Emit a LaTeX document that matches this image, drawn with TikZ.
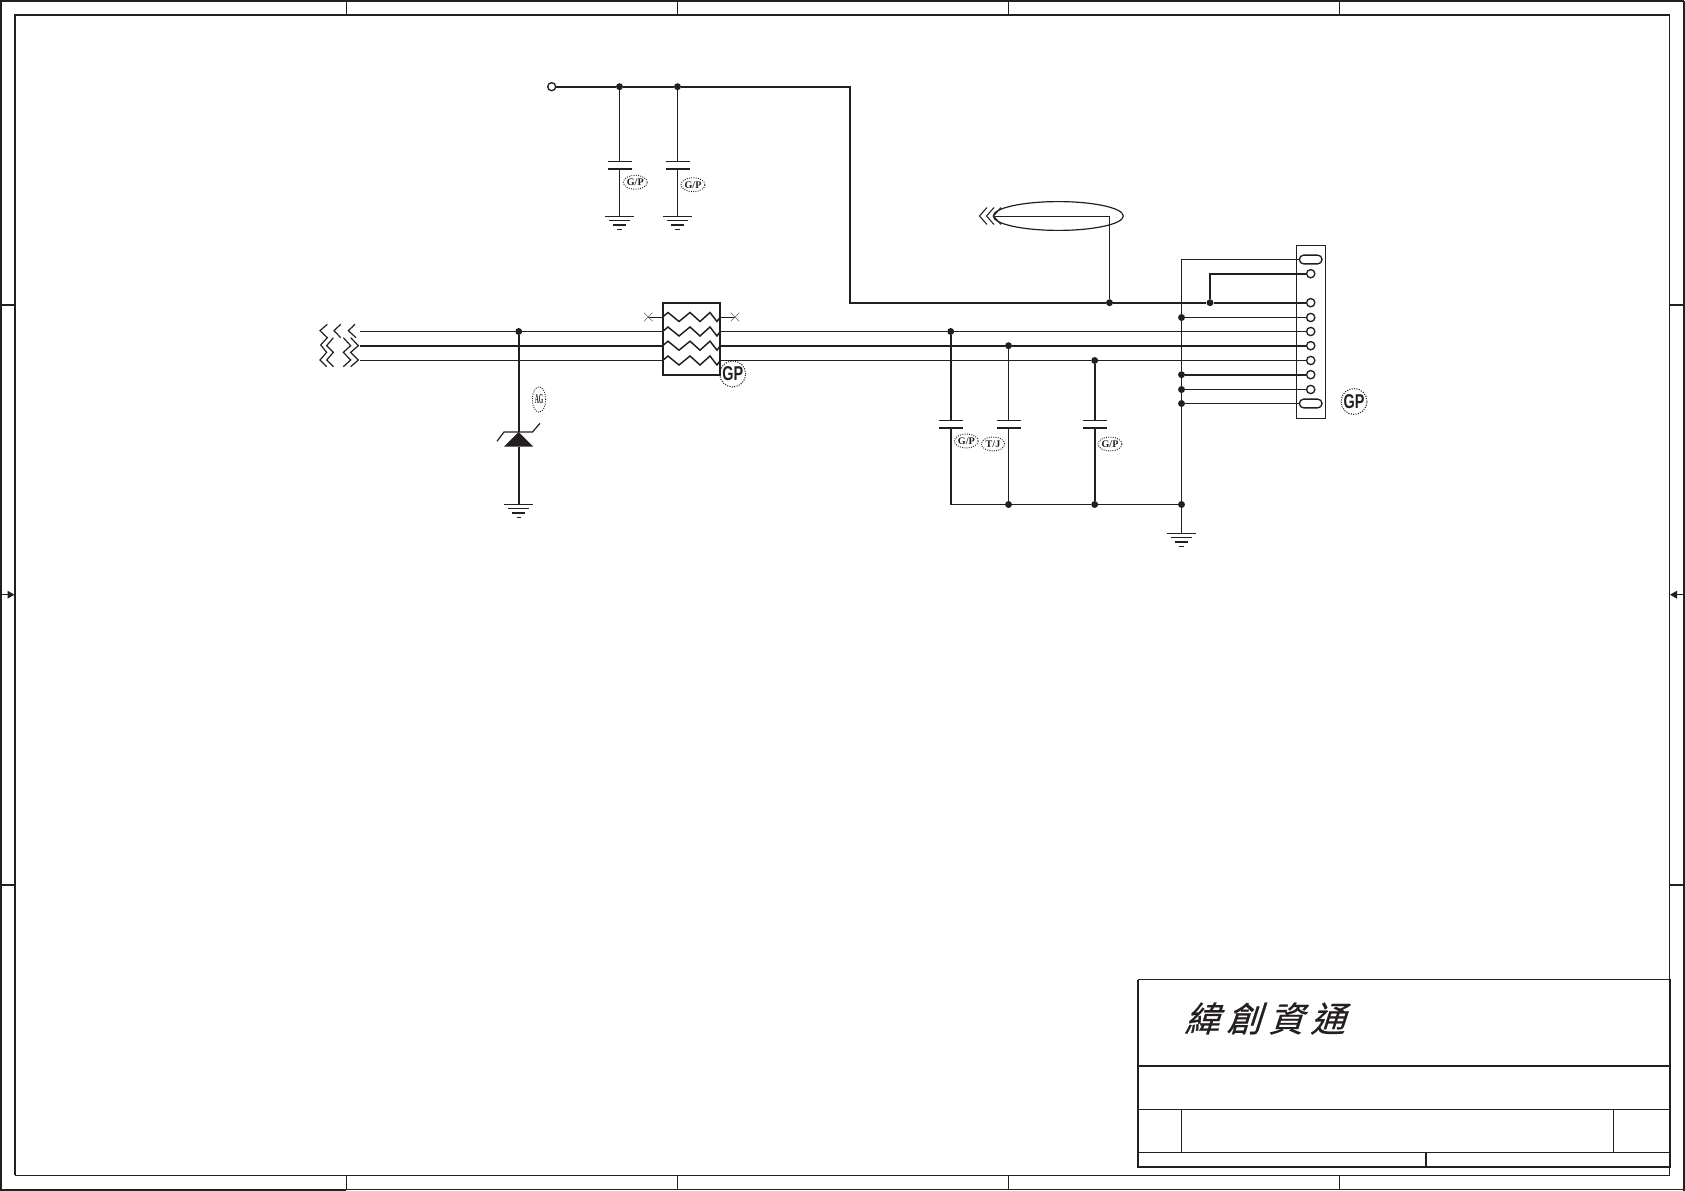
\documentclass[tikz,border=0pt]{standalone}
\usepackage{fontspec}
\setmainfont{Liberation Serif}
\newfontfamily\gpsans{Liberation Sans}
\newfontfamily\cjk[FakeBold=0.7]{Noto Sans CJK TC}
\definecolor{ink}{HTML}{231F20}
\usetikzlibrary{shapes.geometric,shapes.misc}
\tikzset{
  thin wire/.style={draw=ink,line width=0.8pt},
  mid wire/.style={draw=ink,line width=1.4pt},
  thick wire/.style={draw=ink,line width=1.6pt},
  frame thin/.style={draw=ink,line width=0.8pt},
  frame thick/.style={draw=ink,line width=1.4pt},
  junction/.style={circle,fill=ink,inner sep=0pt,minimum size=5.2pt},
  pinhole/.style={circle,draw=ink,fill=white,line width=1pt,inner sep=0pt,minimum size=6.2pt},
  slot/.style={rounded rectangle,draw=ink,fill=white,line width=1pt,inner sep=0pt,minimum width=17pt,minimum height=6.6pt},
  tagsmall/.style={ellipse,draw=ink,densely dotted,line width=0.7pt,inner sep=0pt,minimum width=17.5pt,minimum height=10.5pt,font=\bfseries\fontsize{7.6}{8}\selectfont,text=ink},
  taglarge/.style={circle,draw=ink,densely dotted,line width=0.8pt,inner sep=0pt,minimum size=19.5pt,text=ink},
  plate thin/.style={draw=ink,line width=0.8pt},
  plate thick/.style={draw=ink,line width=1.5pt},
}
% capacitor: name, x, first plate y, second plate y, style of the second plate
\newcommand{\capsym}[5]{%
  \coordinate (#1a) at (#2,#3);\coordinate (#1b) at (#2,#4);
  \draw[plate thin] (#2-12,#3) -- (#2+12,#3);
  \draw[#5] (#2-12,#4) -- (#2+12,#4);}
% ground: name, x, y
\newcommand{\gndsym}[3]{%
  \coordinate (#1) at (#2,#3);
  \draw[plate thin] (#2-14.7,#3) -- (#2+14.7,#3);
  \draw[plate thin] (#2-10.5,#3+4.3) -- (#2+10.5,#3+4.3);
  \draw[plate thick] (#2-6.5,#3+8.6) -- (#2+6.5,#3+8.6);
  \draw[plate thin] (#2-2.2,#3+13) -- (#2+2.2,#3+13);}
\newcommand{\gpbig}{\gpsans\bfseries\fontsize{15}{15}\selectfont\scalebox{0.72}[1]{GP}}
\begin{document}
\begin{tikzpicture}[x=0.75pt,y=-0.75pt,line join=miter]
\useasboundingbox (0,0) rectangle (1685,1191);
\fill[white] (0,0) rectangle (1685,1191);

% ---- sheet frame
\draw[frame thin] (1,1190) -- (1,1) -- (1684,1);
\draw[frame thick] (1684,1) -- (1684,1191);
\draw[frame thick] (0,1190) -- (346,1190);
\draw[frame thin] (346,1189.5) -- (1684,1189.5);
\draw[frame thick] (15,1175) -- (15,15) -- (1670,15);
\draw[frame thin] (1669.5,15) -- (1669.5,1175);
\draw[frame thin,line width=1pt] (15,1175.5) -- (1670,1175.5);
\foreach \tx in {346.5,677.5,1008.5,1339.5} {
  \draw[frame thin] (\tx,1) -- (\tx,15);
  \draw[frame thin] (\tx,1175) -- (\tx,1189.5);
}
\foreach \ty in {305,885} {
  \draw[frame thin] (1,\ty) -- (15,\ty);
  \draw[frame thin] (1670,\ty) -- (1684,\ty);
}
\draw[frame thin,line width=1.1pt] (1,594.7) -- (10,594.7);
\fill[ink] (14.5,594.7) -- (7.5,590.7) -- (7.5,598.7) -- cycle;
\draw[frame thin,line width=1.1pt] (1684,594.7) -- (1675,594.7);
\fill[ink] (1670,594.7) -- (1677,590.7) -- (1677,598.7) -- cycle;

% ---- title block
\draw[frame thin] (1138,979.5) -- (1670.5,979.5);
\draw[frame thick] (1138,979.5) -- (1138,1166.7) -- (1670.5,1166.7) -- (1670.5,979.5);
\draw[frame thick] (1138,1066) -- (1670.5,1066);
\draw[frame thin] (1138,1109.5) -- (1670.5,1109.5);
\draw[frame thin] (1138,1152.5) -- (1670.5,1152.5);
\draw[frame thin] (1181.5,1109.5) -- (1181.5,1152.5);
\draw[frame thin] (1613.5,1109.5) -- (1613.5,1152.5);
\draw[frame thick] (1426,1152.5) -- (1426,1166.7);
\node[xslant=0.32,transform shape,anchor=center,inner sep=0pt,text=ink] (company) at (1269,1018.5)
  {\cjk\fontsize{26}{27}\selectfont 緯\hspace{5.5pt}創\hspace{5.5pt}資\hspace{5.5pt}通};

% ---- named points
\node[circle,draw=ink,fill=white,line width=1pt,inner sep=0pt,minimum size=6pt] (vin) at (551.7,86.7) {};
\coordinate (bend1) at (850,86.7);
\coordinate (bend2) at (850,302.7);
\node[junction] (j1) at (619.5,86.7) {};
\node[junction] (j2) at (677.5,86.7) {};
\node[junction] (j3) at (518.7,331.5) {};
\node[junction] (j4) at (950.7,331.5) {};
\node[junction] (j5) at (1008.5,345.7) {};
\node[junction] (j6) at (1094.7,360.5) {};
\node[junction] (j7) at (1109.5,302.7) {};
\node[junction] (j8) at (1210,302.7) {};
\node[junction] (j9) at (1181.5,317.5) {};
\node[junction] (j10) at (1181.5,374.7) {};
\node[junction] (j11) at (1181.5,389.5) {};
\node[junction] (j12) at (1181.5,403.5) {};
\node[junction] (j13) at (1181.5,504.5) {};
\node[junction] (j14) at (1094.7,504.5) {};
\node[junction] (j15) at (1008.5,504.5) {};
\coordinate (b1) at (950.7,504.5);

% ---- connector
\node[draw=ink,fill=white,line width=1pt,inner sep=0pt,minimum width=21.4pt,minimum height=129.7pt] (conn) at (1311,331.8) {};
\node[slot] (p0) at (1310.7,259.5) {};
\node[pinhole] (p1) at (1310.7,273.7) {};
\node[pinhole] (p2) at (1310.7,302.7) {};
\node[pinhole] (p3) at (1310.7,317.5) {};
\node[pinhole] (p4) at (1310.7,331.5) {};
\node[pinhole] (p5) at (1310.7,345.7) {};
\node[pinhole] (p6) at (1310.7,360.5) {};
\node[pinhole] (p7) at (1310.7,374.7) {};
\node[pinhole] (p8) at (1310.7,389.5) {};
\node[slot] (p9) at (1310.7,403.5) {};
\coordinate (bus top) at (1181.5,259.5);
\coordinate (u1) at (1210,273.7);

% ---- net wires
\draw[thick wire] (vin) -- (j1) -- (j2) -- (bend1) -- (bend2) -- (j7) -- (j8) -- (p2);
\draw[thick wire] (j8) -- (u1) -- (p1);
\draw[thin wire] (p0) -- (bus top) -- (j9) -- (j10) -- (j11) -- (j12) -- (j13);
\draw[thin wire] (j9) -- (p3);
\draw[thick wire] (j10) -- (p7);
\draw[thin wire] (j11) -- (p8);
\draw[thin wire] (j12) -- (p9);
\draw[thin wire] (b1) -- (j15) -- (j14) -- (j13);

% ---- filter pack
\node[draw=ink,line width=1.3pt,inner sep=0pt,minimum width=43.2pt,minimum height=54.2pt] (filter) at (691.5,338.8) {};
\coordinate (fl1) at (662.7,331.5);\coordinate (fr1) at (720.3,331.5);
\coordinate (fl2) at (662.7,345.7);\coordinate (fr2) at (720.3,345.7);
\coordinate (fl3) at (662.7,360.5);\coordinate (fr3) at (720.3,360.5);
\foreach \ry in {317,331.5,345.7,360.5} {
  \draw[draw=ink,line width=1.1pt] (662.7,\ry) -- (668,\ry-4.5) -- (679,\ry+4.5) -- (690,\ry-4.5) -- (700,\ry+4.5) -- (710,\ry-4.5) -- (717,\ry+4.5) -- (720.3,\ry);
}
% unconnected stubs
\coordinate (ncl) at (648.3,317);\coordinate (ncr) at (735,317);
\draw[draw=ink,line width=0.5pt] (ncl) -- (662.7,317) (720.3,317) -- (ncr);
\draw[draw=ink!70,line width=0.4pt] (644,312.7) -- (652.6,321.3) (644,321.3) -- (652.6,312.7);
\draw[draw=ink!70,line width=0.4pt] (730.7,312.7) -- (739.3,321.3) (730.7,321.3) -- (739.3,312.7);
\node[taglarge] (tagf) at (732.7,374) {\gpbig};

% ---- bus wires
\coordinate (s1) at (360,331.5);\coordinate (s2) at (360,345.7);\coordinate (s3) at (360,360.5);
\draw[thin wire] (s1) -- (j3) -- (fl1);
\draw[thick wire] (s2) -- (fl2);
\draw[thin wire] (s3) -- (fl3);
\draw[thin wire] (fr1) -- (j4) -- (p4);
\draw[thick wire] (fr2) -- (j5) -- (p5);
\draw[thin wire] (fr3) -- (j6) -- (p6);

% ---- off-page marks at the bus start
\begin{scope}[shift={(310,315)},x=0.25pt,y=-0.25pt,draw=ink,line width=0.9pt]
\draw[draw=ink] (52,28) -- (30,47) -- (52,68) -- (32,90) -- (50,112) -- (30,135) -- (50,155);
\draw[draw=ink] (92,28) -- (72,47) -- (92,68);
\draw[draw=ink] (70,68) -- (50,92) -- (70,112) -- (50,135) -- (70,155);
\draw[draw=ink] (135,28) -- (115,47) -- (138,68);
\draw[draw=ink] (122,68) -- (145,92) -- (122,112) -- (145,135) -- (122,155);
\draw[draw=ink] (100,68) -- (122,92) -- (100,112) -- (122,135) -- (100,155);
\end{scope}

% ---- upper capacitors
\capsym{c1}{619.5}{161.5}{168.7}{plate thick}
\capsym{c2}{677.5}{161.5}{168.7}{plate thick}
\gndsym{g1}{619.5}{216.5}
\gndsym{g2}{677.5}{216.5}
\draw[thin wire] (j1) -- (c1a) (c1b) -- (g1);
\draw[thin wire] (j2) -- (c2a) (c2b) -- (g2);
\node[tagsmall] (tag1) at (635.3,182.3) {G/P};
\node[tagsmall] (tag2) at (693,184.7) {G/P};

% ---- zener
\coordinate (zt) at (518.7,432);
\coordinate (zb) at (518.7,446.7);
\gndsym{g3}{518.7}{504.5}
\draw[mid wire] (j3) -- (zt);
\draw[mid wire] (zb) -- (g3);
\fill[ink] (zt) -- (504,446.7) -- (533.3,446.7) -- cycle;
\draw[draw=ink,line width=0.9pt] (497,441.3) -- (504,432) -- (532.5,432) -- (540,423.3);
\node[ellipse,draw=ink,densely dotted,line width=0.7pt,inner sep=0pt,minimum width=10pt,minimum height=19pt,text=ink] (tagz) at (539,399.5)
  {\bfseries\fontsize{8.5}{9}\selectfont\scalebox{0.5}[1.2]{AG}};

% ---- lower capacitors
\capsym{c3}{950.7}{420.7}{428}{plate thick}
\capsym{c4}{1008.5}{420.7}{428}{plate thick}
\capsym{c5}{1094.7}{420.7}{428}{plate thick}
\draw[mid wire] (j4) -- (c3a) (c3b) -- (b1);
\draw[thin wire] (j5) -- (c4a) (c4b) -- (j15);
\draw[mid wire] (j6) -- (c5a) (c5b) -- (j14);
\node[tagsmall] (tag3) at (966.3,441) {G/P};
\node[tagsmall] (tag4) at (993,444) {T/J};
\node[tagsmall] (tag5) at (1110,444) {G/P};
\node[taglarge] (tagc) at (1354,401.5) {\gpbig};
\gndsym{g4}{1181.5}{533.5}
\draw[thin wire] (j13) -- (g4);

% ---- harness with loop
\node[ellipse,draw=ink,line width=0.9pt,inner sep=0pt,minimum width=97.5pt,minimum height=21.6pt] (loop) at (1058.3,216) {};
\coordinate (lp) at (995,216.5);
\coordinate (lq) at (1109.5,216.5);
\draw[thin wire] (lp) -- (lq) -- (j7);
\draw[draw=ink,line width=0.8pt] (987,207.5) -- (979.5,216) -- (987,224.5);
\draw[draw=ink,line width=0.8pt] (994,207.5) -- (986.5,216) -- (994,224.5);
\draw[draw=ink,line width=0.8pt] (1001,207.5) -- (993.5,216) -- (1001,224.5);
\end{tikzpicture}
\end{document}
